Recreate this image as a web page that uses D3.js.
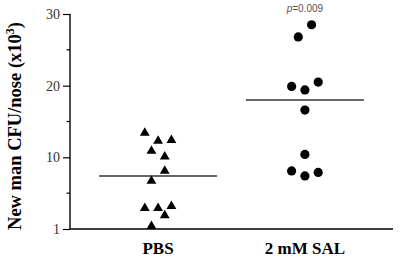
<!DOCTYPE html>
<html>
<head>
<meta charset="utf-8">
<script src="https://cdn.jsdelivr.net/npm/d3@7"></script>
<style>
  body { margin: 0; background: #fff; }
  svg { display: block; }
</style>
</head>
<body>
<script>
var width = 400;
var height = 260;

// data
var groups = ['PBS', '2 mM SAL'];
var pbsValues = [13.4, 12.3, 12.4, 10.9, 10.1, 8.1, 6.7, 2.9, 2.9, 3.2, 1.9, 0.4];
var pbsSlots = [-2, 0, 2, -1, 1, 1, -1, -2, 0, 2, 1, -1];
var salValues = [28.5, 26.8, 19.9, 19.4, 20.5, 16.6, 10.4, 8.1, 7.4, 7.9];
var salSlots = [1, -1, -2, 0, 2, 0, 0, -2, 0, 2];
var medians = [7.4, 18.0];
var tickValues = [0, 10, 20, 30];
var tickLabels = ['1', '10', '20', '30'];
var minorTicks = [5, 15, 25];
var pLabel = '0.009';

var svg = d3.select('body').append('svg')
    .attr('width', width)
    .attr('height', height);

var x = d3.scalePoint()
    .domain(groups)
    .range([70, 393])
    .padding(0.6);

var y = d3.scaleLinear()
    .domain([0, 30])
    .range([229, 14]);

var slot = d3.scaleLinear()
    .domain([-2, 2])
    .range([-13.3, 13.3]);

// y axis
var yAxis = svg.append('g')
    .attr('transform', 'translate(70,0)')
    .call(d3.axisLeft(y)
        .tickValues(tickValues)
        .tickSize(7)
        .tickPadding(3)
        .tickFormat((d, i) => tickLabels[i]));
yAxis.select('.domain').attr('d', `M0,${y(30)}V${y(0)}`).attr('stroke-width', 1.4);
yAxis.selectAll('.tick line').attr('stroke-width', 1.2);
yAxis.selectAll('.tick text')
    .attr('font-family', '"Liberation Serif", serif')
    .attr('font-size', 14)
    .attr('fill', '#333');

yAxis.selectAll('.minor')
    .data(minorTicks)
    .enter().append('line')
    .attr('x1', -3.5).attr('x2', 0)
    .attr('y1', (d) => y(d)).attr('y2', (d) => y(d))
    .attr('stroke', '#000').attr('stroke-width', 1.2);

// x axis line
svg.append('line')
    .attr('x1', 70).attr('x2', 393)
    .attr('y1', y(0)).attr('y2', y(0))
    .attr('stroke', '#000').attr('stroke-width', 1.4);

// group labels
svg.selectAll('.glabel')
    .data(groups)
    .enter().append('text')
    .attr('x', (d) => x(d))
    .attr('y', 254)
    .attr('text-anchor', 'middle')
    .attr('font-family', '"Liberation Serif", serif')
    .attr('font-weight', 'bold')
    .attr('font-size', 17)
    .text((d) => d);

// medians
svg.selectAll('.median')
    .data(medians)
    .enter().append('line')
    .attr('x1', (d, i) => x(groups[i]) - 59)
    .attr('x2', (d, i) => x(groups[i]) + 59)
    .attr('y1', (d) => y(d)).attr('y2', (d) => y(d))
    .attr('stroke', '#666').attr('stroke-width', 2);

// PBS triangles
var tri = d3.symbol().type(d3.symbolTriangle).size(42);
svg.append('g').selectAll('path')
    .data(pbsValues)
    .enter().append('path')
    .attr('d', tri)
    .attr('transform', (d, i) => `translate(${x(groups[0]) + slot(pbsSlots[i])},${y(d)})`)
    .attr('fill', '#000');

// SAL circles
svg.append('g').selectAll('circle')
    .data(salValues)
    .enter().append('circle')
    .attr('cx', (d, i) => x(groups[1]) + slot(salSlots[i]))
    .attr('cy', (d) => y(d))
    .attr('r', 4.6)
    .attr('fill', '#000');

// p value
var pText = svg.append('text')
    .attr('x', x(groups[1]))
    .attr('y', 12)
    .attr('text-anchor', 'middle')
    .attr('font-family', '"Liberation Sans", Arial, sans-serif')
    .attr('font-size', 10)
    .attr('fill', '#555');
pText.append('tspan').attr('font-style', 'italic').text('p');
pText.append('tspan').text('=' + pLabel);

// y label
var yLabel = svg.append('text')
    .attr('transform', 'translate(21,126) rotate(-90)')
    .attr('text-anchor', 'middle')
    .attr('font-family', '"Liberation Serif", serif')
    .attr('font-weight', 'bold')
    .attr('font-size', 18.5);
yLabel.append('tspan').text('New man CFU/nose (x10');
yLabel.append('tspan').attr('font-size', 12).attr('dy', -7).text('3');
yLabel.append('tspan').attr('dy', 7).text(')');
</script>
</body>
</html>
